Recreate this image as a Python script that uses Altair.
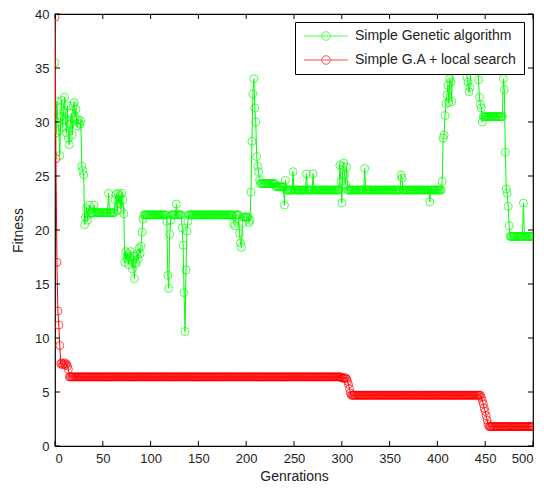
import altair as alt
import numpy as np
import pandas as pd

GA = "Simple Genetic algorithm"
LS = "Simple G.A + local search"

# Simple GA fitness, run-length encoded (value, number of consecutive generations)
ga_values = [
    35.5, 29.0, 31.9, 30.0, 29.2, 26.9, 30.5, 32.0, 29.5, 31.0, 32.3, 30.2, 29.0, 31.5, 28.5, 27.9,
    29.8, 30.8, 28.8, 31.5, 31.8, 30.5, 31.2, 29.6, 30.2, 29.9, 29.8, 30.1, 25.9, 25.5, 25.1, 20.5,
    21.2, 22.0, 20.9, 21.8, 22.3, 21.5,
    21.6, 22.3, 21.6, 23.4, 21.6,
    22.8, 23.3, 21.8, 23.4, 22.4, 23.2, 21.9, 23.4, 22.8, 21.5,
    17.0, 18.0, 17.3, 17.8, 16.8, 17.5, 18.0, 17.2, 16.4, 17.6, 15.5, 17.0, 16.9, 17.8, 17.3, 18.3,
    17.8, 18.5, 19.8, 21.0,
    21.4, 20.8, 15.8, 14.6, 19.6, 20.9, 21.4, 22.4, 21.4,
    20.2, 18.6, 14.2, 10.6, 16.3, 19.9, 20.8,
    21.4, 20.6, 20.4, 21.4, 19.7, 18.8, 18.4, 20.6, 21.2,
    20.7, 20.9, 23.5, 28.2, 32.6, 34.0, 31.3, 30.0, 26.8, 25.9, 25.4, 24.6,
    24.3, 24.0, 22.3, 24.6, 23.7, 25.4, 23.7, 25.2, 23.7, 25.2, 23.7,
    26.0, 24.5, 22.5, 25.9, 26.2, 25.1, 24.2, 25.8,
    23.7, 25.7, 23.7, 25.1, 24.8, 23.7, 22.6, 23.7,
    24.5, 28.5, 28.8, 30.6, 31.7, 32.5, 33.4, 31.8, 34.0, 33.7, 31.9, 36.5, 34.1, 33.7, 32.8, 33.2, 35.5,
    33.9, 32.3, 31.6, 31.3, 30.0, 30.5, 34.0, 33.0, 27.2, 23.8, 23.4, 22.2, 20.4, 19.4, 22.5, 19.4,
]
ga_runs = (
    [1] * 38
    + [3, 1, 14, 1, 6]
    + [1] * 10
    + [1] * 20
    + [24, 1, 1, 1, 1, 1, 5, 1, 5]
    + [1] * 7
    + [47, 1, 1, 4, 1, 1, 1, 1, 6]
    + [1] * 12
    + [16, 9, 1, 1, 7, 1, 13, 1, 6, 1, 27]
    + [1] * 8
    + [18, 1, 37, 1, 1, 28, 1, 12]
    + [1] * 11 + [15, 1, 1, 1, 1, 8]
    + [1, 1, 1, 1, 1, 21, 1, 1, 1, 1, 1, 1, 1, 14, 1, 10]
)

# Simple GA + local search fitness, run-length encoded
ls_values = [39.7, 26.6, 17.0, 12.5, 11.2, 9.3, 7.6, 7.7, 7.5, 7.6, 7.7, 7.5, 7.6, 7.4, 7.1,
             6.4, 6.3, 6.2, 6.0, 5.7, 5.3, 4.9, 4.7,
             4.5, 4.2, 3.9, 3.5, 3.2, 2.8, 2.4, 2.0, 1.8]
ls_runs = [1] * 15 + [285, 5] + [1] * 5 + [136] + [1] * 8 + [47]

x_ticks = [0, 50, 100, 150, 200, 250, 300, 350, 400, 450, 500]
y_ticks = [0, 5, 10, 15, 20, 25, 30, 35, 40]

ga_fit = np.repeat(ga_values, ga_runs)
ls_fit = np.repeat(ls_values, ls_runs)
df = pd.concat([
    pd.DataFrame({"gen": np.arange(len(ga_fit)), "fitness": ga_fit, "series": GA}),
    pd.DataFrame({"gen": np.arange(len(ls_fit)), "fitness": ls_fit, "series": LS}),
], ignore_index=True)

FONT = "Liberation Sans"
TXT = "#222222"
W, H = 478, 432

xscale = alt.Scale(domain=[0, 500], nice=False)
yscale = alt.Scale(domain=[0, 40], nice=False, zero=False)

sym_path = "M-4.4,0L4.4,0M-0.85,0A0.85,0.85,0,1,1,0.85,0A0.85,0.85,0,1,1,-0.85,0Z"

color = alt.Color(
    "series:N",
    scale=alt.Scale(domain=[GA, LS], range=["#00ff00", "#ff0000"]),
    legend=alt.Legend(
        title=None, orient="none", legendX=240, legendY=8,
        fillColor="white", strokeColor="black", padding=7,
        symbolType=sym_path, symbolSize=100, symbolStrokeWidth=1,
        symbolOffset=17, labelOffset=22, labelLimit=300,
        labelFont=FONT, labelFontSize=14, labelColor=TXT, rowPadding=10,
    ),
)

xaxis = alt.Axis(values=x_ticks, title="Genrations", tickSize=0, domain=False, grid=False,
                 labelFont=FONT, labelFontSize=13, labelColor=TXT, labelPadding=6,
                 titleFont=FONT, titleFontSize=14, titleFontWeight="normal", titleColor=TXT,
                 titlePadding=4)
yaxis = alt.Axis(values=y_ticks, title="Fitness", tickSize=0, domain=False, grid=False,
                 labelFont=FONT, labelFontSize=13, labelColor=TXT, labelPadding=6,
                 titleFont=FONT, titleFontSize=14, titleFontWeight="normal", titleColor=TXT,
                 titlePadding=9)
x_enc = alt.X("gen:Q", scale=xscale, axis=xaxis)
y_enc = alt.Y("fitness:Q", scale=yscale, axis=yaxis)

base = alt.Chart(df)
layers = []
for s in [GA, LS]:
    b = base.transform_filter(alt.datum.series == s)
    layers.append(b.mark_line(strokeWidth=1, clip=True).encode(x=x_enc, y=y_enc, color=color))
    layers.append(b.mark_point(shape="circle", filled=False, size=64, strokeWidth=1, clip=True)
                  .encode(x=x_enc, y=y_enc, color=color))

xt = alt.Chart(pd.DataFrame({"gen": x_ticks}))
yt = alt.Chart(pd.DataFrame({"fitness": y_ticks}))
ticks = [
    xt.mark_rule(color="black", strokeWidth=1).encode(x=x_enc, y=alt.value(H), y2=alt.value(H - 5)),
    xt.mark_rule(color="black", strokeWidth=1).encode(x=x_enc, y=alt.value(0), y2=alt.value(5)),
    yt.mark_rule(color="black", strokeWidth=1).encode(y=y_enc, x=alt.value(0), x2=alt.value(5)),
    yt.mark_rule(color="black", strokeWidth=1).encode(y=y_enc, x=alt.value(W), x2=alt.value(W - 5)),
]

chart = alt.layer(*layers, *ticks).properties(
    width=W, height=H,
    autosize=alt.AutoSizeParams(type="none"),
    padding={"left": 47, "top": 6, "right": 3, "bottom": 38},
    background="white",
).configure_view(stroke="black", strokeWidth=1.2)

chart.save("out.html", embed_options={"renderer": "svg", "actions": False})
